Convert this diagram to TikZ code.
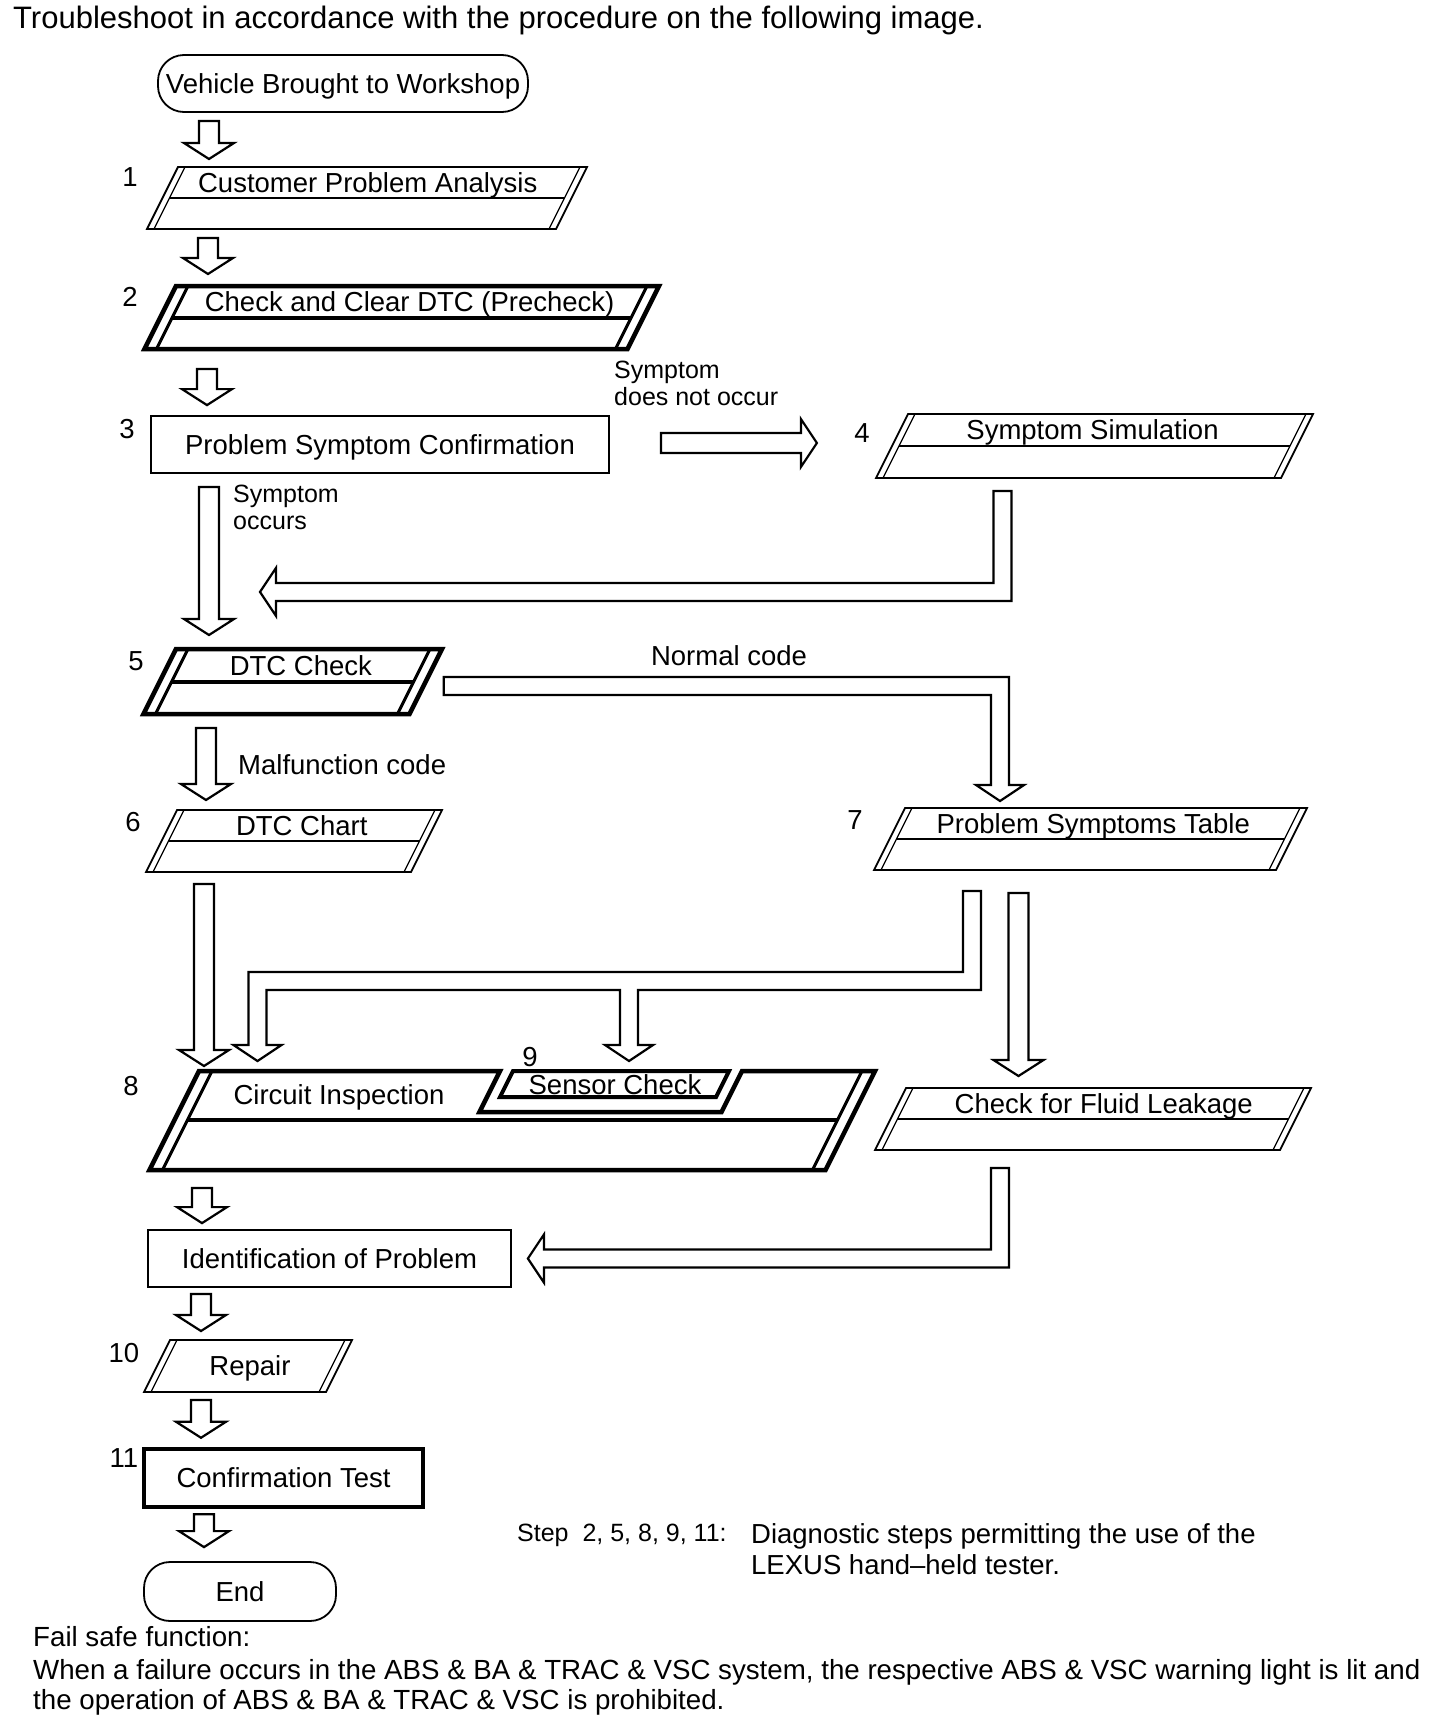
\documentclass[tikz,border=0pt]{standalone}
\usepackage{fontspec}
\setmainfont{Liberation Sans}
\usetikzlibrary{calc}

\newcommand\boxfont{\fontsize{27.5pt}{33pt}\selectfont}
\newcommand\lblfont{\fontsize{25pt}{27pt}\selectfont}
\newcommand\titlefont{\fontsize{31pt}{36pt}\selectfont}
\newcommand\notefont{\fontsize{27.7pt}{30pt}\selectfont}

\tikzset{
  txt/.style={font=\boxfont, inner sep=0pt, text height=19.7pt, text depth=0pt},
  num/.style={txt},
  lbl/.style={font=\lblfont, inner sep=0pt, align=left, anchor=north west},
  rectbox/.style={draw, line width=1.8pt, txt},
  term/.style={rectbox, rounded corners=26pt},
  blk/.style={draw, line width=2.2pt, fill=white, line join=miter},
}

% hollow block arrows
\newcommand\blkdown[2]{%
  \draw[blk] let \p1=#1, \p2=#2 in
    (\x1-10pt,\y1) -- (\x1-10pt,\y2+16pt) -- (\x1-25pt,\y2+16pt) -- (\x1,\y2)
    -- (\x1+25pt,\y2+16pt) -- (\x1+10pt,\y2+16pt) -- (\x1+10pt,\y1) -- cycle;}
\newcommand\blkright[2]{%
  \draw[blk] let \p1=#1, \p2=#2 in
    (\x1,\y1+10pt) -- (\x2-16pt,\y1+10pt) -- (\x2-16pt,\y1+24pt) -- (\x2,\y1)
    -- (\x2-16pt,\y1-24pt) -- (\x2-16pt,\y1-10pt) -- (\x1,\y1-10pt) -- cycle;}
\newcommand\blkdownleft[2]{%
  \draw[blk] let \p1=#1, \p2=#2 in
    (\x1-9pt,\y1) -- (\x1-9pt,\y2+9pt) -- (\x2+16pt,\y2+9pt) -- (\x2+16pt,\y2+24pt) -- (\x2,\y2)
    -- (\x2+16pt,\y2-24pt) -- (\x2+16pt,\y2-9pt) -- (\x1+9pt,\y2-9pt) -- (\x1+9pt,\y1) -- cycle;}
\newcommand\blkrightdown[2]{%
  \draw[blk] let \p1=#1, \p2=#2 in
    (\x1,\y1+9pt) -- (\x2+9pt,\y1+9pt) -- (\x2+9pt,\y2+16pt) -- (\x2+24pt,\y2+16pt) -- (\x2,\y2)
    -- (\x2-24pt,\y2+16pt) -- (\x2-9pt,\y2+16pt) -- (\x2-9pt,\y1-9pt) -- (\x1,\y1-9pt) -- cycle;}
\newcommand\blkfork[3]{%
  \draw[blk] let \p1=#1, \p2=#2, \p3=#3 in
    (\x1+9pt,\y1) -- (\x1+9pt,\y2+71pt) -- (\x3+9pt,\y2+71pt) -- (\x3+9pt,\y2+16pt)
    -- (\x3+24pt,\y2+16pt) -- (\x3,\y2) -- (\x3-24pt,\y2+16pt) -- (\x3-9pt,\y2+16pt)
    -- (\x3-9pt,\y2+71pt) -- (\x2+9pt,\y2+71pt) -- (\x2+9pt,\y2+16pt) -- (\x2+24pt,\y2+16pt)
    -- (\x2,\y2) -- (\x2-24pt,\y2+16pt) -- (\x2-9pt,\y2+16pt) -- (\x2-9pt,\y2+89pt)
    -- (\x1-9pt,\y2+89pt) -- (\x1-9pt,\y1) -- cycle;}

% slanted step box: [kind]{name}{x top left}{x top right}{y top}{y bottom}{text}{text shift}
\def\kthick{thick}\def\kplain{plain}
\newcommand\docbox[8][thin]{%
  \pgfmathsetmacro\dbdx{(#6-#5)/2}%
  \pgfmathsetmacro\dbym{(#5+#6)/2}%
  \def\dbkind{#1}%
  \ifx\dbkind\kthick \def\dboff{12}\def\dbow{4.5pt}\def\dbiw{3pt}\def\dbdw{4pt}%
  \else \def\dboff{7}\def\dbow{1.8pt}\def\dbiw{1.2pt}\def\dbdw{1.5pt}\fi
  \coordinate (#2-n) at ({(#3+#4)/2},#5);
  \coordinate (#2-s) at ({(#3+#4)/2-\dbdx},#6);
  \coordinate (#2-e) at ({#4-\dbdx/2},\dbym);
  \coordinate (#2-w) at ({#3-\dbdx/2},\dbym);
  \draw[line width=\dbow] (#3,#5) -- (#4,#5) -- ({#4-\dbdx},#6) -- ({#3-\dbdx},#6) -- cycle;
  \draw[line width=\dbiw] ({#3+\dboff},#5) -- ({#3+\dboff-\dbdx},#6)
    ({#4-\dboff},#5) -- ({#4-\dboff-\dbdx},#6);
  \ifx\dbkind\kplain
    \node[txt] (#2) at ({(#3+#4)/2-\dbdx/2+#8},\dbym) {#7};
  \else
    \draw[line width=\dbdw] ({#3+\dboff-\dbdx/2},\dbym) -- ({#4-\dboff-\dbdx/2},\dbym);
    \node[txt] (#2) at ({(#3+#4)/2-\dbdx/4+#8},{#5+(#6-#5)/4}) {#7};
  \fi}

\begin{document}
\begin{tikzpicture}[x=1pt, y=-1pt]
  \fill[white] (0,0) rectangle (1440,1732);
  \useasboundingbox (0,0) rectangle (1440,1732);
  \coordinate (spine) at (206,0);

  \node[anchor=west, font=\titlefont, inner sep=0pt, text height=22.2pt, text depth=0pt]
    (title) at (13,17) {Troubleshoot in accordance with the procedure on the following image.};

  % left column
  \node[term, minimum width=370pt, minimum height=57pt] (veh) at (343,83.5) {Vehicle Brought to Workshop};
  \docbox{cpa}{178}{587}{167}{229}{Customer Problem Analysis}{-7}
  \docbox[thick]{ccd}{176}{659}{286}{349}{Check and Clear DTC (Precheck)}{0}
  \node[rectbox, minimum width=458pt, minimum height=57pt] (psc) at (380,444.5) {Problem Symptom Confirmation};
  \docbox[thick]{dtc}{176}{442}{649}{714}{DTC Check}{0}
  \docbox{chart}{177}{442}{810}{872}{DTC Chart}{0}

  % right column
  \docbox{sim}{908}{1313}{414}{478}{Symptom Simulation}{-10}
  \docbox{pst}{905}{1307}{808}{870}{Problem Symptoms Table}{-5}
  \docbox{fl}{906}{1311}{1088}{1150}{Check for Fluid Leakage}{3}

  % circuit inspection with sensor check
  \draw[line width=4.5pt] (199,1071) -- (500,1071) -- (479.5,1112) -- (721.5,1112) -- (742,1071)
    -- (875,1071) -- (825.5,1170) -- (149.5,1170) -- cycle;
  \draw[line width=3pt] (212,1071) -- (162.5,1170) (862,1071) -- (812.5,1170);
  \draw[line width=4pt] (187.5,1120) -- (837.5,1120);
  \draw[line width=4pt] (513,1071) -- (729,1071) -- (716,1097) -- (500,1097) -- cycle;
  \coordinate (ci-n) at (537,1071);
  \coordinate (ci-s) at (487.5,1170);
  \coordinate (sc-n) at (621,1071);
  \node[txt] (ci) at (339,1095) {Circuit Inspection};
  \node[txt] (sc) at (615,1085) {Sensor Check};

  \node[rectbox, minimum width=363pt, minimum height=57pt] (idp) at (329.5,1258.5) {Identification of Problem};
  \docbox[plain]{rep}{170}{352}{1340}{1392}{Repair}{2}
  \node[rectbox, line width=4.5pt, minimum width=279pt, minimum height=58pt] (conf) at (283.5,1478) {Confirmation Test};
  \node[term, minimum width=192pt, minimum height=59pt] (end) at (240,1591.5) {End};

  % step numbers
  \node[num] (n1) at (130,177) {1};
  \node[num] (n2) at (130,297) {2};
  \node[num] (n3) at (127,429) {3};
  \node[num] (n4) at (862,433) {4};
  \node[num] (n5) at (136,661) {5};
  \node[num] (n6) at (133,822) {6};
  \node[num] (n7) at (855,820) {7};
  \node[num] (n8) at (131,1086) {8};
  \node[num] (n9) at (530,1057) {9};
  \node[num] (n10) at (124,1353) {10};
  \node[num] (n11) at (124,1458) {11};

  % arrows
  \blkdown{($(veh.south -| spine)+(3,8)$)}{($(cpa-n -| spine)+(0,-8)$)}
  \blkdown{($(cpa-s -| spine)+(2,9)$)}{($(ccd-n -| spine)+(0,-12)$)}
  \blkdown{($(ccd-s -| spine)+(1,20)$)}{($(psc.north -| spine)+(0,-10)$)}
  \blkright{($(psc.east)+(51,-1.5)$)}{($(psc.east)+(207,-1.5)$)}
  \blkdown{($(psc.south -| spine)+(3,13)$)}{($(dtc-n -| spine)+(0,-14)$)}
  \blkdownleft{($(sim-s)+(-76,13)$)}{($(psc.south -| spine)+(54,118)$)}
  \blkrightdown{($(dtc-e)+(18,4.5)$)}{($(pst-n)+(-106,-7)$)}
  \blkdown{($(dtc-s -| spine)+(0,14)$)}{($(chart-n -| spine)+(0,-10)$)}
  \blkdown{($(chart-s -| spine)+(-2,12)$)}{($(ci-n -| spine)+(0,-5)$)}
  \blkfork{($(pst-s)+(-103,21)$)}{($(ci-n -| spine)+(51.5,-10)$)}{($(sc-n)+(8,-9)$)}
  \blkdown{($(pst-s)+(-56.5,23)$)}{($(fl-n)+(-90,-12)$)}
  \blkdownleft{($(fl-s)+(-77.5,18)$)}{($(idp.east)+(16,0)$)}
  \blkdown{($(ci-s -| spine)+(-4,18)$)}{($(idp.north -| spine)+(0,-6)$)}
  \blkdown{($(idp.south -| spine)+(-5,6)$)}{($(rep-n -| spine)+(0,-9)$)}
  \blkdown{($(rep-s -| spine)+(-5,8)$)}{($(conf.north -| spine)+(0,-9)$)}
  \blkdown{($(conf.south -| spine)+(-2,5)$)}{($(end.north -| spine)+(0,-14)$)}

  % connector labels
  \node[lbl] (l-notoccur) at (614,361) {Symptom\\does not occur};
  \node[lbl] (l-occurs) at (233,485) {Symptom\\occurs};
  \node[txt] (l-normal) at (729,656) {Normal code};
  \node[txt, anchor=west] (l-malf) at (238,765) {Malfunction code};

  % notes
  \node[anchor=west, font=\lblfont, inner sep=0pt, text height=17.9pt, text depth=0pt]
    (step) at (517,1533) {Step\ \ 2, 5, 8, 9, 11:};
  \node[lbl, font=\fontsize{27.5pt}{31pt}\selectfont] (stepnote) at (751,1523)
    {Diagnostic steps permitting the use of the\\LEXUS hand–held tester.};
  \node[lbl, font=\notefont] (failsafe) at (33,1626)
    {Fail safe function:\\[3pt]When a failure occurs in the ABS \& BA \& TRAC \& VSC system, the respective ABS \& VSC warning light is lit and\\the operation of ABS \& BA \& TRAC \& VSC is prohibited.};
\end{tikzpicture}
\end{document}
